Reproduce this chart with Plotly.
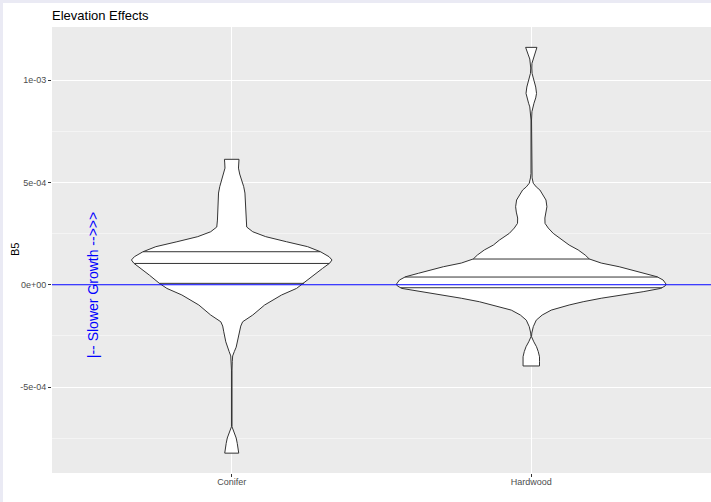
import numpy as np
import plotly.graph_objects as go

title_text = "Elevation Effects"
categories = ["Conifer", "Hardwood"]
y_label = "B5"

# violin outlines: value (B5) and relative density (max = 1)
conifer_y = [6.13e-4, 5.95e-4, 5.70e-4, 5.41e-4, 5.12e-4, 4.79e-4, 4.48e-4, 4.14e-4,
             3.65e-4, 3.16e-4, 2.82e-4, 2.59e-4, 2.35e-4, 2.10e-4, 1.86e-4, 1.61e-4,
             1.37e-4, 1.21e-4, 1.05e-4, 0.80e-4, 0.47e-4, 0.07e-4, -0.18e-4, -0.50e-4,
             -0.99e-4, -1.48e-4, -1.81e-4, -2.02e-4, -2.30e-4, -2.79e-4, -3.05e-4, -3.27e-4,
             -3.48e-4, -3.76e-4, -4.17e-4, -6.94e-4, -7.10e-4, -7.26e-4, -7.49e-4, -7.75e-4,
             -7.98e-4, -8.23e-4]
conifer_density = [0.054, 0.052, 0.050, 0.059, 0.073, 0.089, 0.098, 0.100,
                   0.104, 0.106, 0.111, 0.156, 0.252, 0.407, 0.563, 0.659,
                   0.722, 0.744, 0.726, 0.674, 0.611, 0.537, 0.481, 0.370,
                   0.244, 0.156, 0.081, 0.067, 0.059, 0.044, 0.033, 0.019,
                   0.007, 0.004, 0.002, 0.002, 0.011, 0.022, 0.033, 0.041,
                   0.048, 0.052]

hardwood_y = [1.160e-3, 1.142e-3, 1.123e-3, 1.103e-3, 1.082e-3, 1.059e-3, 1.033e-3, 1.015e-3,
              0.992e-3, 0.966e-3, 0.935e-3, 0.913e-3, 0.887e-3, 0.869e-3, 0.846e-3, 0.805e-3,
              0.544e-3, 0.522e-3, 0.496e-3, 0.478e-3, 0.463e-3, 0.438e-3, 0.414e-3, 0.381e-3,
              0.355e-3, 0.326e-3, 0.300e-3, 0.277e-3, 0.251e-3, 0.218e-3, 0.194e-3, 0.170e-3,
              0.145e-3, 0.126e-3, 0.106e-3, 0.088e-3, 0.072e-3, 0.056e-3, 0.039e-3, 0.023e-3,
              0.003e-3, -0.006e-3, -0.018e-3, -0.034e-3, -0.050e-3, -0.066e-3, -0.083e-3, -0.099e-3,
              -0.124e-3, -0.148e-3, -0.173e-3, -0.205e-3, -0.236e-3, -0.254e-3, -0.279e-3, -0.303e-3,
              -0.327e-3, -0.352e-3, -0.376e-3, -0.397e-3]
hardwood_density = [0.042, 0.033, 0.022, 0.011, 0.005, 0.004, 0.006, 0.013,
                    0.022, 0.033, 0.039, 0.033, 0.020, 0.011, 0.005, 0.002,
                    0.002, 0.006, 0.015, 0.037, 0.064, 0.089, 0.109, 0.116,
                    0.111, 0.101, 0.102, 0.126, 0.163, 0.237, 0.281, 0.348,
                    0.400, 0.430, 0.519, 0.652, 0.741, 0.837, 0.933, 0.978,
                    1.000, 0.993, 0.960, 0.830, 0.667, 0.519, 0.385, 0.281,
                    0.148, 0.081, 0.037, 0.015, 0.004, 0.002, 0.019, 0.039,
                    0.052, 0.061, 0.061, 0.061]

conifer_quantiles = [6.8e-6, 1.04e-4, 1.613e-4]
hardwood_quantiles = [-1.47e-5, 3.76e-5, 1.256e-4]

y_tick_vals = [-5e-4, 0, 5e-4, 1e-3]
y_tick_text = ["-5e-04", "0e+00", "5e-04", "1e-03"]
y_minor_vals = [-7.5e-4, -2.5e-4, 2.5e-4, 7.5e-4]

ref_line_y = 0
note_text = "|-- Slower Growth -->>>"
note_x = 0.535
note_y = 0

VIOLIN_HALF = 0.45
OUTLINE = "#333333"
FONT = "Liberation Sans, Arial, sans-serif"

fig = go.Figure()

violins = [
    (1, conifer_y, conifer_density, conifer_quantiles),
    (2, hardwood_y, hardwood_density, hardwood_quantiles),
]
for center, ys, dens, quants in violins:
    ys = np.array(ys)
    w = np.array(dens) * VIOLIN_HALF
    xs = np.concatenate([center - w[::-1], center + w, [center - w[-1]]])
    yy = np.concatenate([ys[::-1], ys, [ys[-1]]])
    fig.add_trace(go.Scatter(x=xs, y=yy, mode="lines", fill="toself",
                             fillcolor="white", line=dict(color=OUTLINE, width=1),
                             hoverinfo="skip", showlegend=False))
    order = np.argsort(ys)
    for q in quants:
        hw = np.interp(q, ys[order], w[order])
        fig.add_trace(go.Scatter(x=[center - hw, center + hw], y=[q, q], mode="lines",
                                 line=dict(color=OUTLINE, width=1),
                                 hoverinfo="skip", showlegend=False))

# horizontal reference line
fig.add_trace(go.Scatter(x=[0.3, 2.7], y=[ref_line_y, ref_line_y], mode="lines",
                         line=dict(color="blue", width=1), hoverinfo="skip",
                         showlegend=False))

fig.add_annotation(x=note_x, y=note_y, xref="x", yref="y", text=note_text,
                   textangle=-90, showarrow=False,
                   font=dict(family=FONT, size=14, color="blue"))

W, H = 711, 502
ML, MR, MT, MB = 52, 0, 27, 29
pw = W - ML - MR
ph = H - MT - MB

fig.add_annotation(x=(15 - ML) / pw, y=0.5, xref="paper", yref="paper",
                   text=y_label, textangle=-90, showarrow=False,
                   xanchor="center", yanchor="middle",
                   font=dict(family=FONT, size=11, color="black"))

# thin lavender frame at top/left
fig.add_shape(type="rect", xref="paper", yref="paper",
              x0=-ML / pw, x1=(3 - ML) / pw, y0=-MB / ph, y1=1 + MT / ph,
              fillcolor="#EAEAF4", line=dict(width=0), layer="below")
fig.add_shape(type="rect", xref="paper", yref="paper",
              x0=-ML / pw, x1=1, y0=1 + (MT - 3) / ph, y1=1 + MT / ph,
              fillcolor="#EAEAF4", line=dict(width=0), layer="below")

fig.update_layout(
    width=W, height=H,
    margin=dict(l=ML, r=MR, t=MT, b=MB),
    paper_bgcolor="white",
    plot_bgcolor="#EBEBEB",
    title=dict(text=title_text, x=0, xref="paper", xanchor="left",
               y=1 - 15 / H, yref="container", yanchor="middle",
               font=dict(family=FONT, size=13, color="black")),
    font=dict(family=FONT),
    xaxis=dict(range=[0.4, 2.6], tickvals=[1, 2], ticktext=categories,
               showgrid=True, gridcolor="white", gridwidth=1, zeroline=False,
               ticks="outside", ticklen=3, tickcolor=OUTLINE, tickwidth=1,
               ticklabelstandoff=-3,
               tickfont=dict(family=FONT, size=9, color="#4D4D4D"),
               showline=False, fixedrange=True),
    yaxis=dict(range=[-9.2e-4, 1.2595e-3], tickvals=y_tick_vals, ticktext=y_tick_text,
               showgrid=True, gridcolor="white", gridwidth=1, zeroline=False,
               ticks="outside", ticklen=3, tickcolor=OUTLINE, tickwidth=1,
               tickfont=dict(family=FONT, size=9, color="#4D4D4D"),
               minor=dict(tickvals=y_minor_vals, showgrid=True, gridcolor="#F4F4F4",
                          gridwidth=0.6, ticks=""),
               showline=False, fixedrange=True),
)

fig.write_html("out.html",
               config={"displayModeBar": False},
               post_script="document.body.style.margin='0';"
                           "document.body.style.overflow='hidden';")
